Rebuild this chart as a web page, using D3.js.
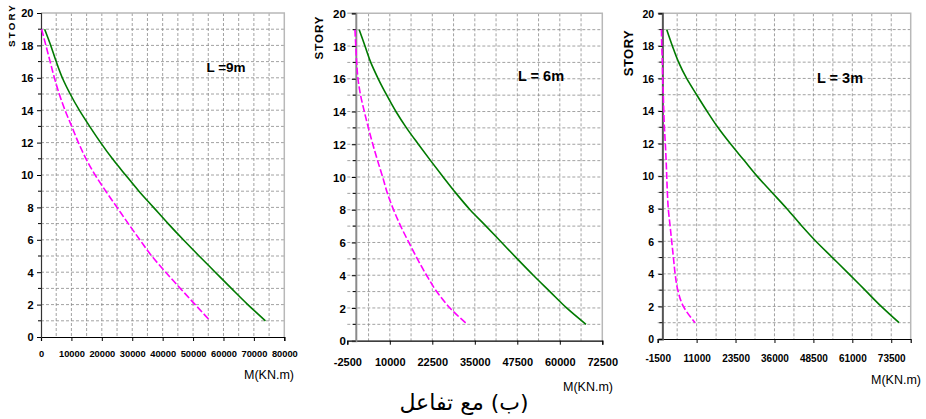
<!DOCTYPE html>
<html>
<head>
<meta charset="utf-8">
<script src="https://cdn.jsdelivr.net/npm/d3@7"></script>
<style>
  body { margin: 0; background: #fff; }
  svg { display: block; }
</style>
</head>
<body>
<svg id="chart" width="926" height="419"></svg>
<script>
// Bending moment M (kN.m) per story, three bay lengths
const stories = [19, 18, 17, 16, 15, 14, 13, 12, 11, 10, 9, 8, 7, 6, 5, 4, 3, 2, 1];

const greenL9 = [1200, 3200, 5000, 7000, 9600, 12600, 16000, 19600, 23500, 27800, 32200, 37000, 41800, 46800, 52000, 57300, 62600, 68000, 73800];
const pinkL9  = [200, 1600, 3000, 4400, 6000, 7900, 10100, 12300, 14800, 17800, 21300, 25000, 28700, 32500, 36400, 41000, 45800, 50700, 55600];

const greenL6 = [1000, 2700, 4400, 6600, 9100, 11800, 14900, 18400, 22000, 25700, 29500, 33600, 38300, 42900, 47500, 52200, 57100, 62000, 67700];
const pinkL6  = [-250, 0, 250, 640, 1400, 2500, 3700, 5000, 6400, 7900, 9300, 11100, 13200, 15600, 18100, 20800, 23800, 27700, 32800];

const greenL3 = [1400, 3200, 5200, 7800, 11000, 14300, 17800, 21800, 26100, 30400, 35200, 40000, 44500, 49300, 54600, 59900, 65100, 70300, 76000];
const pinkL3  = [-300, -200, 0, 100, 300, 450, 650, 950, 1200, 1400, 1600, 1900, 2450, 3000, 3550, 4100, 4950, 6750, 10500];

const ticksL9 = [0, 10000, 20000, 30000, 40000, 50000, 60000, 70000, 80000];
const ticksL6 = [-2500, 10000, 22500, 35000, 47500, 60000, 72500];
const ticksL3 = [-1500, 11000, 23500, 36000, 48500, 61000, 73500];
const storyTicks = [0, 2, 4, 6, 8, 10, 12, 14, 16, 18, 20];
const storyLines = [1, 2, 3, 4, 5, 6, 7, 8, 9, 10, 11, 12, 13, 14, 15, 16, 17, 18, 19];

const titles = ["L =9m", "L = 6m", "L = 3m"];
const yTitle = "STORY";
const xTitle = "M(KN.m)";
const caption = "(ب) مع تفاعل";

const svg = d3.select("#chart");
const GREEN = "#007a00", PINK = "#ff00ff", GRID = "#8a8a8a", FRAME = "#b8b8b8";
const FONT = "'Liberation Sans', Arial, sans-serif";

const panels = [
  { green: greenL9, pink: pinkL9, ticks: ticksL9, domain: [0, 80000], gridStep: 5000,
    left: 41, right: 284.3, top: 13, bottom: 337,
    xFont: 9.3, xBase: 356.5, yFont: 11, yLabelGap: 7.5, axisColor: "#333", axisWidth: 1.2,
    title: titles[0], titleX: 226, titleY: 72, titleFont: 13.5,
    storyX: 11.5, storyY: 25, storyFont: 9.8, storySpacing: 2.2,
    mX: 269, mY: 379, mFont: 12.5 },
  { green: greenL6, pink: pinkL6, ticks: ticksL6, domain: [-2500, 72500], gridStep: 6250,
    left: 347.3, right: 602.3, top: 13.3, bottom: 340.7,
    xFont: 11, xBase: 366, yFont: 11.5, yLabelGap: 1.5, axisColor: "#8a8a8a", axisWidth: 2,
    title: titles[1], titleX: 541, titleY: 81, titleFont: 14.5,
    storyX: 319, storyY: 37.5, storyFont: 11.5, storySpacing: 1,
    mX: 588, mY: 391, mFont: 12.5 },
  { green: greenL3, pink: pinkL3, ticks: ticksL3, domain: [-1500, 79750], gridStep: 6250,
    left: 657.7, right: 910.7, top: 13.3, bottom: 339,
    xFont: 10, xBase: 361.5, yFont: 10.5, yLabelGap: 3.5, axisColor: "#555", axisWidth: 2,
    title: titles[2], titleX: 840, titleY: 83, titleFont: 14.5,
    storyX: 628, storyY: 53, storyFont: 13, storySpacing: 0.5,
    mX: 896, mY: 384, mFont: 12.5 }
];

panels.forEach(p => {
  const x = d3.scaleLinear().domain(p.domain).range([p.left, p.right]);
  const y = d3.scaleLinear().domain([0, 20]).range([p.bottom, p.top]);
  const g = svg.append("g");

  // vertical grid (minor x unit)
  const xGrid = d3.range(p.domain[0] + p.gridStep, p.domain[1] - 1, p.gridStep).filter(v => v !== 0);
  g.selectAll("line.vg").data(xGrid).join("line")
    .attr("x1", d => x(d)).attr("x2", d => x(d))
    .attr("y1", y(20)).attr("y2", y(0))
    .attr("stroke", GRID).attr("stroke-width", 0.8).attr("stroke-dasharray", "3,2");

  // horizontal grid at each story
  g.selectAll("line.hg").data(storyLines).join("line")
    .attr("x1", x(p.domain[0])).attr("x2", x(p.domain[1]))
    .attr("y1", d => y(d)).attr("y2", d => y(d))
    .attr("stroke", GRID).attr("stroke-width", 0.8).attr("stroke-dasharray", "3,2");

  // plot frame: top and right
  g.append("path")
    .attr("d", `M${x(p.domain[0])},${y(20)}H${x(p.domain[1])}V${y(0)}`)
    .attr("fill", "none").attr("stroke", FRAME).attr("stroke-width", 1.5);

  // x axis
  const xAxis = d3.axisBottom(x).tickValues(p.ticks).tickSize(4).tickFormat(d => String(d));
  const xa = g.append("g").attr("transform", `translate(0,${y(0)})`).call(xAxis);
  xa.select(".domain").attr("stroke", "#000").attr("stroke-width", 1.2);
  xa.selectAll(".tick line").attr("stroke", "#000");
  xa.selectAll(".tick text")
    .attr("y", p.xBase - y(0)).attr("dy", null)
    .attr("font-family", FONT).attr("font-weight", "bold").attr("font-size", p.xFont).attr("fill", "#000");

  // y axis at M = 0
  const yAxis = d3.axisLeft(y).tickValues(storyTicks).tickSize(4).tickFormat(d => String(d));
  const ya = g.append("g").attr("transform", `translate(${x(0)},0)`).call(yAxis);
  ya.select(".domain").attr("stroke", p.axisColor).attr("stroke-width", p.axisWidth);
  ya.selectAll(".tick line").attr("stroke", "#000");
  ya.selectAll(".tick text")
    .attr("x", p.left - p.yLabelGap - x(0)).attr("dy", "0.36em")
    .attr("font-family", FONT).attr("font-weight", "bold").attr("font-size", p.yFont).attr("fill", "#000");
  // minor ticks at odd stories
  g.selectAll("line.mt").data(storyLines.filter(d => d % 2 === 1)).join("line")
    .attr("x1", x(0) - 3).attr("x2", x(0))
    .attr("y1", d => y(d)).attr("y2", d => y(d))
    .attr("stroke", "#000").attr("stroke-width", 1);

  // moment curves
  const line = d3.line().x(d => x(d[0])).y(d => y(d[1])).curve(d3.curveMonotoneY);
  g.append("path")
    .datum(p.pink.map((v, i) => [v, stories[i]]))
    .attr("d", line).attr("fill", "none")
    .attr("stroke", PINK).attr("stroke-width", 1.6).attr("stroke-dasharray", "7,2.5");
  g.append("path")
    .datum(p.green.map((v, i) => [v, stories[i]]))
    .attr("d", line).attr("fill", "none")
    .attr("stroke", GREEN).attr("stroke-width", 1.6);

  // bay length label
  g.append("text").attr("x", p.titleX).attr("y", p.titleY)
    .attr("text-anchor", "middle")
    .attr("font-family", FONT).attr("font-weight", "bold").attr("font-size", p.titleFont)
    .text(p.title);

  // axis titles
  g.append("text")
    .attr("transform", `translate(${p.storyX},${p.storyY}) rotate(-90)`)
    .attr("text-anchor", "middle").attr("dy", "0.35em")
    .attr("font-family", FONT).attr("font-weight", "bold").attr("font-size", p.storyFont)
    .attr("letter-spacing", p.storySpacing)
    .text(yTitle);
  g.append("text").attr("x", p.mX).attr("y", p.mY)
    .attr("text-anchor", "middle")
    .attr("font-family", FONT).attr("font-size", p.mFont)
    .text(xTitle);
});

// caption
svg.append("text")
  .attr("x", 464).attr("y", 410)
  .attr("text-anchor", "middle").attr("direction", "rtl")
  .attr("font-family", "'DejaVu Sans', 'Noto Sans', serif").attr("font-size", 22)
  .text(caption);
</script>
</body>
</html>
